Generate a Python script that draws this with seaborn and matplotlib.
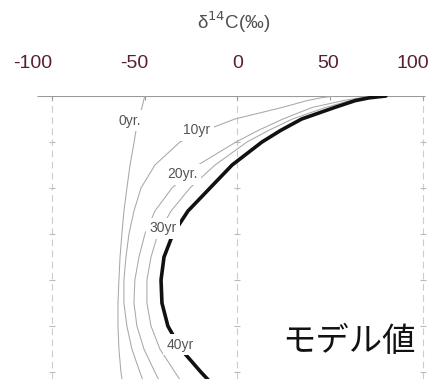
import numpy as np
import pandas as pd
import matplotlib
matplotlib.use("Agg")
import matplotlib.pyplot as plt
import matplotlib.transforms as mtransforms
import seaborn as sns

# Depth levels (relative units, 0 = surface) shared by all profiles
depth = [0, 0.04, 0.1, 0.25, 0.5, 0.75, 1.0, 1.5, 2.0, 2.5, 3.0, 3.5, 4.0, 4.5, 5.0, 5.5, 6.0, 6.3]

# Model delta-14C profiles (permil) at each depth level
d14c_0yr = [-50.0, -50.2, -50.6, -51.5, -53.1, -54.7, -55.7, -57.9, -59.6, -61.2, -62.3, -63.3, -63.9, -64.4, -64.4, -63.9, -62.8, -61.7]
d14c_10yr = [52.0, 45.0, 37.5, 24.0, -1.4, -17.5, -31.0, -44.5, -52.0, -55.8, -58.5, -60.1, -61.2, -61.2, -59.6, -56.9, -52.6, -49.9]
d14c_20yr = [73.9, 66.0, 57.0, 40.2, 24.5, 11.1, -0.8, -21.3, -35.3, -44.5, -49.9, -53.1, -55.3, -55.8, -54.2, -50.4, -44.5, -40.7]
d14c_30yr = [76.1, 69.0, 60.5, 47.4, 29.6, 16.7, 5.1, -12.1, -25.6, -35.8, -42.9, -46.6, -48.8, -48.8, -46.6, -41.8, -33.7, -28.8]
d14c_40yr = [80.0, 71.0, 63.5, 52.3, 34.6, 23.2, 13.2, -2.9, -14.8, -26.7, -34.8, -39.6, -41.2, -40.7, -37.5, -30.5, -19.7, -12.7]

thin_curves = {"0yr.": d14c_0yr, "10yr": d14c_10yr, "20yr.": d14c_20yr, "30yr": d14c_30yr}

x_ticks = [-100, -50, 0, 50, 100]
x_ticklabels = ["-100", "-50", "0", "50", "100"]
grid_x = [-100, 0, 100]
depth_marks = [1, 2, 3, 4, 5, 6]

# Label anchor points (delta, depth) for each curve annotation
curve_labels = ["0yr.", "10yr", "20yr.", "30yr", "40yr"]
label_x = [-58.0, -21.8, -29.9, -40.2, -31.0]
label_y = [0.54, 0.74, 1.70, 2.87, 5.41]

sns.set_theme(style="white")
plt.rcParams["font.family"] = ["Liberation Sans", "DejaVu Sans"]

thin_df = pd.concat(
    [pd.DataFrame({"delta": v, "depth": depth, "curve": k}) for k, v in thin_curves.items()],
    ignore_index=True,
)
thick_df = pd.DataFrame({"delta": d14c_40yr, "depth": depth})

fig = plt.figure(figsize=(4.33, 3.79), dpi=100)
ax = fig.add_axes([0, 0, 1, (379 - 96) / 379])

# reference grid: dashed verticals with small depth marks
for gx in grid_x:
    ax.axvline(gx, color="#cccccc", lw=0.8, ls=(0, (6, 4)), zorder=1)
    ax.scatter([gx] * len(depth_marks), depth_marks, marker="_", s=25,
               color="#bbbbbb", linewidths=0.8, zorder=1)
ax.hlines(0, -108, 101, color="#9a9a9a", lw=0.8, zorder=1)
ax.scatter(x_ticks, [0] * len(x_ticks), marker="|", s=30, color="#9a9a9a",
           linewidths=0.8, zorder=1)

sns.lineplot(data=thin_df, x="delta", y="depth", units="curve", estimator=None,
             sort=False, color="#a8a8a8", lw=0.75, ax=ax, zorder=2)
sns.lineplot(data=thick_df, x="delta", y="depth", sort=False, estimator=None,
             color="#111111", lw=2.6, ax=ax, zorder=3)

for txt, lx, ly in zip(curve_labels, label_x, label_y):
    ax.text(lx, ly, txt, ha="center", va="center", fontsize=10, color="#555555",
            bbox=dict(boxstyle="square,pad=0.25", fc="white", ec="none"), zorder=4)

ax.text(0.652, 0.134, "モデル値", transform=ax.transAxes, ha="left", va="center",
        fontsize=24, color="#111111", family=["Noto Sans CJK JP", "DejaVu Sans"])

ax.set_xlim(-128.0, 105.4)
ax.set_ylim(6.15, 0)
ax.xaxis.tick_top()
ax.set_xticks(x_ticks)
ax.set_xticklabels(x_ticklabels, fontsize=14, color="#5a2030")
ax.tick_params(axis="x", length=0, pad=17)
# nudge the top labels horizontally (pixels)
label_shift = [-19, -10, 0, -2, -10]
for lab, dx in zip(ax.get_xticklabels(), label_shift):
    lab.set_transform(lab.get_transform() +
                      mtransforms.ScaledTranslation(dx / 100, 0, fig.dpi_scale_trans))
ax.set_yticks([])
ax.set_xlabel("")
ax.set_ylabel("")
for s in ax.spines.values():
    s.set_visible(False)

fig.text(234 / 433, 1 - 22 / 379, "δ$^{14}$C(‰)", ha="center", va="center",
         fontsize=13.5, color="#505050")

fig.savefig("out.png", dpi=100)
